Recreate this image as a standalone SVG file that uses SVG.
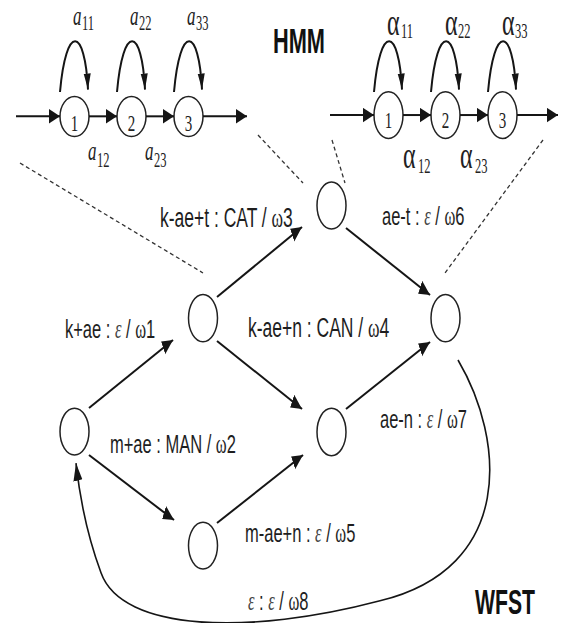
<svg xmlns="http://www.w3.org/2000/svg" width="563" height="623" viewBox="0 0 563 623">
  <defs>
    <style>
      .ln { fill: none; stroke: #151515; stroke-width: 2; vector-effect: non-scaling-stroke; }
      .st { fill: #fff; stroke: #222; stroke-width: 1.5; vector-effect: non-scaling-stroke; }
      .dash { fill: none; stroke: #333; stroke-width: 1.3; stroke-dasharray: 4 3; vector-effect: non-scaling-stroke; }
      .arr { marker-end: url(#ah); }
      .loop { marker-end: url(#ahl); }
      .lbl { font-family: "Liberation Sans", Arial, sans-serif; font-size: 17.5px; fill: #1e1e1e; }
      .g { font-family: "Liberation Serif", "Times New Roman", serif; }
      .gi { font-family: "Liberation Serif", "Times New Roman", serif; font-style: italic; fill: #444; }
      .ttl { font-family: "Liberation Sans", Arial, sans-serif; font-weight: bold; font-size: 21.5px; fill: #111; }
      .num { font-family: "Liberation Serif", "Times New Roman", serif; font-size: 15px; fill: #222; text-anchor: middle; }
      .pa { font-family: "Liberation Serif", "Times New Roman", serif; font-style: italic; font-size: 17px; fill: #222; }
      .pal { font-family: "Liberation Serif", "Times New Roman", serif; font-size: 24px; fill: #222; }
      .sub { font-family: "Liberation Serif", "Times New Roman", serif; font-size: 12.5px; fill: #222; }
    </style>
    <marker id="ah" markerUnits="userSpaceOnUse" markerWidth="12" markerHeight="10" refX="11" refY="4.5" orient="auto">
      <path d="M0,0 L11,4.5 L0,9 z" fill="#151515"/>
    </marker>
    <marker id="ahl" markerUnits="userSpaceOnUse" markerWidth="11" markerHeight="8" refX="10" refY="3.5" orient="auto">
      <path d="M0,0 L10,3.5 L0,7 z" fill="#151515"/>
    </marker>
  </defs>

  <!-- the whole drawing is laid out on a grid that is stretched 1.6x vertically -->
  <g transform="scale(1,1.6)">

    <!-- left HMM: states -->
    <g id="hmmA-s1"><ellipse class="st" cx="74.5" cy="72.8" rx="14.5" ry="12.5"/><text class="num" x="74.5" y="81.9">1</text></g>
    <g id="hmmA-s2"><ellipse class="st" cx="131.5" cy="72.8" rx="14.5" ry="12.5"/><text class="num" x="131.5" y="81.9">2</text></g>
    <g id="hmmA-s3"><ellipse class="st" cx="188.5" cy="72.8" rx="14.5" ry="12.5"/><text class="num" x="188.5" y="81.9">3</text></g>

    <!-- right HMM: states -->
    <g id="hmmB-s1"><ellipse class="st" cx="388.5" cy="71.9" rx="14.5" ry="14.6"/><text class="num" x="388.5" y="80">1</text></g>
    <g id="hmmB-s2"><ellipse class="st" cx="445.5" cy="71.9" rx="14.5" ry="14.6"/><text class="num" x="445.5" y="80">2</text></g>
    <g id="hmmB-s3"><ellipse class="st" cx="502.5" cy="71.9" rx="14.5" ry="14.6"/><text class="num" x="502.5" y="80">3</text></g>

    <!-- WFST states -->
    <g id="wfst-n0"><ellipse class="st" cx="74.5" cy="269.7" rx="14.5" ry="14.6"/></g>
    <g id="wfst-n1"><ellipse class="st" cx="203" cy="198.8" rx="14.5" ry="14.8"/></g>
    <g id="wfst-n2"><ellipse class="st" cx="203" cy="341" rx="14.5" ry="14.6"/></g>
    <g id="wfst-n3"><ellipse class="st" cx="331.5" cy="128.4" rx="14.5" ry="14.7"/></g>
    <g id="wfst-n4"><ellipse class="st" cx="331.5" cy="270" rx="14.5" ry="14.8"/></g>
    <g id="wfst-n5"><ellipse class="st" cx="445.5" cy="198.8" rx="14.5" ry="14.8"/></g>

    <g id="connectors">
      <!-- left HMM transitions -->
      <path class="ln arr" d="M16,72.7 L60,72.7"/>
      <path class="ln arr" d="M89,72.7 L117,72.7"/>
      <path class="ln arr" d="M146,72.7 L174,72.7"/>
      <path class="ln arr" d="M203,72.7 L247,72.7"/>
      <path class="ln loop" d="M60,57.5 C66,14.6 85,16.5 88,56"/>
      <path class="ln loop" d="M117,57.5 C123,14.6 142,16.5 145,56"/>
      <path class="ln loop" d="M174,57.5 C180,14.6 199,16.5 202,56"/>

      <!-- right HMM transitions -->
      <path class="ln arr" d="M330,71.9 L374,71.9"/>
      <path class="ln arr" d="M403,71.9 L431,71.9"/>
      <path class="ln arr" d="M460,71.9 L488,71.9"/>
      <path class="ln arr" d="M517,71.9 L558,71.9"/>
      <path class="ln loop" d="M374,57.5 C380,14.6 399,16.5 402,56"/>
      <path class="ln loop" d="M431,57.5 C437,14.6 456,16.5 459,56"/>
      <path class="ln loop" d="M488,57.5 C494,14.6 513,16.5 516,56"/>

      <!-- expansion guides -->
      <path class="dash" d="M20,101.9 L203,170.6"/>
      <path class="dash" d="M258,84.4 L303,114.4"/>
      <path class="dash" d="M332,87.5 L345,114.4"/>
      <path class="dash" d="M543,87.5 L445,170.6"/>

      <!-- WFST arcs -->
      <path class="ln arr" d="M89,255 L173,212.5"/>
      <path class="ln arr" d="M217,185.6 L302,141.9"/>
      <path class="ln arr" d="M217,213.1 L302,255.6"/>
      <path class="ln arr" d="M89,284.4 L174,325"/>
      <path class="ln arr" d="M217,326.9 L303,284.4"/>
      <path class="ln arr" d="M346,142.5 L430,184.4"/>
      <path class="ln arr" d="M346,255.6 L430,213.8"/>
      <path class="ln arr" style="stroke-width:1.6" d="M458,225 C505,275 515,355 380,375.5 C250,397 122,395 101,358 C88,336 80,312.5 76,289.5"/>
    </g>

    <!-- left HMM transition probabilities -->
    <text class="pa" x="73" y="15.6">a</text><text class="sub" x="82" y="18.8">11</text>
    <text class="pa" x="130" y="15.6">a</text><text class="sub" x="139" y="18.8">22</text>
    <text class="pa" x="187" y="15.6">a</text><text class="sub" x="196" y="18.8">33</text>
    <text class="pa" x="88" y="100">a</text><text class="sub" x="97" y="104.4">12</text>
    <text class="pa" x="145" y="100">a</text><text class="sub" x="154" y="104.4">23</text>

    <!-- right HMM transition probabilities -->
    <text class="pal" x="387" y="21.9">α</text><text class="sub" x="401" y="23.8">11</text>
    <text class="pal" x="445" y="21.9">α</text><text class="sub" x="458" y="23.8">22</text>
    <text class="pal" x="502" y="21.9">α</text><text class="sub" x="515" y="23.8">33</text>
    <text class="pal" x="403" y="105">α</text><text class="sub" x="418" y="108.1">12</text>
    <text class="pal" x="460" y="105">α</text><text class="sub" x="475" y="108.1">23</text>

    <!-- titles -->
    <text class="ttl" x="273" y="33.1" textLength="52" lengthAdjust="spacingAndGlyphs">HMM</text>
    <text class="ttl" x="475" y="383.5" textLength="60" lengthAdjust="spacingAndGlyphs">WFST</text>

    <!-- WFST arc labels -->
    <text class="lbl" x="160" y="141.9">k-ae+t : CAT / <tspan class="g">ω</tspan>3</text>
    <text class="lbl" x="382" y="140.6" style="font-size:16.5px">ae-t : <tspan class="gi">ε</tspan> / <tspan class="g">ω</tspan>6</text>
    <text class="lbl" x="65" y="211.3" style="font-size:16.5px">k+ae : <tspan class="gi">ε</tspan> / <tspan class="g">ω</tspan>1</text>
    <text class="lbl" x="248" y="210.6">k-ae+n : CAN / <tspan class="g">ω</tspan>4</text>
    <text class="lbl" x="380" y="267.5" style="font-size:16.5px">ae-n : <tspan class="gi">ε</tspan> / <tspan class="g">ω</tspan>7</text>
    <text class="lbl" x="110" y="283.1" style="font-size:16.5px">m+ae : MAN / <tspan class="g">ω</tspan>2</text>
    <text class="lbl" x="245" y="338.8" style="font-size:16.5px">m-ae+n : <tspan class="gi">ε</tspan> / <tspan class="g">ω</tspan>5</text>
    <text class="lbl" x="248" y="381.3" style="font-size:16.5px"><tspan class="gi">ε</tspan> : <tspan class="gi">ε</tspan> / <tspan class="g">ω</tspan>8</text>
  </g>
</svg>
